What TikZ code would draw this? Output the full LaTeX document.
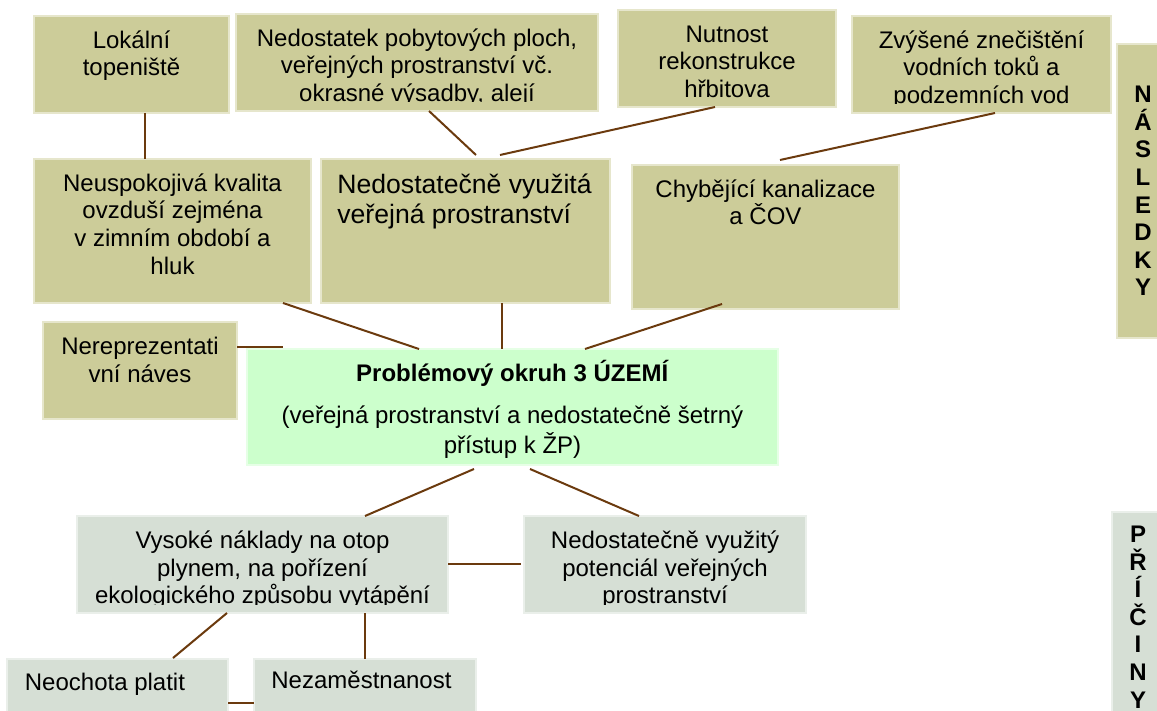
\documentclass[tikz,border=0pt]{standalone}
\usepackage{fontspec}
\setmainfont{Liberation Sans}
\usetikzlibrary{calc}

\definecolor{olivova}{HTML}{CCCC99}
\definecolor{zelena}{HTML}{CCFFCC}
\definecolor{seda}{HTML}{D6DFD5}
\definecolor{hneda}{HTML}{6B3A0E}
\newcommand{\podpera}{\rule{0pt}{12pt}}

\tikzset{
  krabice/.style={rectangle, fill=#1, draw=#1!50!white, line width=0.6pt,
    inner sep=0pt, outer sep=0pt, anchor=north west},
  dusledek/.style={krabice=olivova},
  pricina/.style={krabice=seda},
  popis/.style={inner sep=0pt, anchor=north, align=center,
    font=\fontsize{12}{13.8}\selectfont},
  popisL/.style={popis, anchor=north west, align=left},
  svisle/.style={inner sep=0pt, align=center,
    font=\fontsize{12}{13.8}\selectfont\bfseries},
  spoj/.style={draw=hneda, line width=1pt},
}

\begin{document}
\begin{tikzpicture}[x=0.5pt, y=-0.5pt]
    \useasboundingbox (0,0) rectangle (1157,711);

    % Nasledky - horni rada
    \node[dusledek, minimum width=97.5pt, minimum height=48.5pt] (lok) at (34,16) {};
    \node[dusledek, minimum width=181pt, minimum height=48.5pt] (pobyt) at (236,14) {};
    \node[dusledek, minimum width=109pt, minimum height=48.5pt] (nutn) at (618,10) {};
    \node[dusledek, minimum width=129.5pt, minimum height=48.5pt] (zvys) at (852,16) {};
    \node[popis] (tlok) at ($(lok.north)+(0,8)$) {\podpera Lokální\\topeniště};
    \begin{scope}
      \clip (pobyt.north west) rectangle ($(pobyt.south east)+(0,-9)$);
      \node[popis] (tpobyt) at ($(pobyt.north)+(0,8)$) {\podpera Nedostatek pobytových ploch,\\veřejných prostranství vč.\\okrasné výsadby, alejí};
    \end{scope}
    \node[popis] (tnutn) at ($(nutn.north)+(0,8)$) {\podpera Nutnost\\rekonstrukce\\hřbitova};
    \begin{scope}
      \clip (zvys.north west) rectangle ($(zvys.south east)+(0,-9)$);
      \node[popis] (tzvys) at ($(zvys.north)+(0,8)$) {\podpera Zvýšené znečištění\\vodních toků a\\podzemních vod};
    \end{scope}

    % Nasledky - druha rada
    \node[dusledek, minimum width=138.5pt, minimum height=72pt] (neusp) at (34,159) {};
    \node[dusledek, minimum width=144.5pt, minimum height=72pt] (vyuz) at (321,159) {};
    \node[dusledek, minimum width=133.5pt, minimum height=72pt] (chyb) at (632,165) {};
    \node[dusledek, minimum width=97pt, minimum height=48.5pt] (nerep) at (43,322) {};
    \node[popis] (tneusp) at ($(neusp.north)+(0,8)$) {\podpera Neuspokojivá kvalita\\ovzduší zejména\\v zimním období a\\hluk};
    \node[popisL, font=\fontsize{13.3}{15}\selectfont] (tvyuz) at ($(vyuz.north west)+(16,8)$) {\rule{0pt}{13pt}Nedostatečně využitá\\veřejná prostranství};
    \node[popis] (tchyb) at ($(chyb.north)+(0,8)$) {\podpera Chybějící kanalizace\\a ČOV};
    \node[popis] (tnerep) at ($(nerep.north)+(0,8)$) {\podpera Nereprezentati\\vní náves};

    % Problemovy okruh
    \node[krabice=zelena, minimum width=265.5pt, minimum height=58pt] (okruh) at (247,349) {};
    \node[popis] (tokruh) at ($(okruh.north)+(0,8)$) {\podpera\textbf{Problémový okruh 3 ÚZEMÍ}\\[7.2pt](veřejná prostranství a nedostatečně šetrný\\[1.2pt]přístup k ŽP)};

    % Priciny
    \node[pricina, minimum width=185.5pt, minimum height=48.5pt] (vysoke) at (77,516) {};
    \node[pricina, minimum width=141pt, minimum height=48.5pt] (potenc) at (524,516) {};
    \node[pricina, minimum width=110.5pt, minimum height=30pt] (neoch) at (7,659) {};
    \node[pricina, minimum width=111pt, minimum height=30pt] (nezam) at (254,659) {};
    \begin{scope}
      \clip (vysoke.north west) rectangle ($(vysoke.south east)+(0,-9)$);
      \node[popis] (tvysoke) at ($(vysoke.north)+(0,8)$) {\podpera Vysoké náklady na otop\\plynem, na pořízení\\ekologického způsobu vytápění};
    \end{scope}
    \begin{scope}
      \clip (potenc.north west) rectangle ($(potenc.south east)+(0,-9)$);
      \node[popis] (tpotenc) at ($(potenc.north)+(0,8)$) {\podpera Nedostatečně využitý\\potenciál veřejných\\prostranství};
    \end{scope}
    \node[popisL] (tneoch) at ($(neoch.north west)+(17.5,7)$) {\podpera Neochota platit};
    \node[popisL] (tnezam) at ($(nezam.north west)+(17,5)$) {\podpera Nezaměstnanost};

    % Svisle popisky
    \node[dusledek, minimum width=26pt, minimum height=147pt] (nasl) at (1117,44) {};
    \node[svisle] (tnasl) at (nasl.center) {N\\Á\\S\\L\\E\\D\\K\\Y};
    \node[pricina, minimum width=26pt, minimum height=105pt] (pric) at (1112,512) {};
    \node[svisle] (tpric) at (pric.center) {P\\Ř\\Í\\Č\\I\\N\\Y};

    % Spojnice
    \draw[spoj] ($(lok.south west)+(111,0)$) -- ($(neusp.north west)+(111,0)$);
    \draw[spoj] ($(pobyt.south west)+(193,0)$) -- ($(vyuz.north west)+(155,-4)$);
    \draw[spoj] ($(vyuz.north west)+(179,-4)$) -- ($(nutn.south west)+(97,0)$);
    \draw[spoj] ($(zvys.south west)+(143,0)$) -- ($(chyb.north west)+(148,-5)$);
    \draw[spoj] ($(neusp.south west)+(249,0)$) -- ($(okruh.north west)+(172,0)$);
    \draw[spoj] ($(vyuz.south west)+(181,0)$) -- ($(okruh.north west)+(255,0)$);
    \draw[spoj] ($(chyb.south west)+(90,-5)$) -- ($(okruh.north west)+(338,0)$);
    \draw[spoj] ($(nerep.north east)+(0,25)$) -- ($(okruh.north west)+(36,-2)$);
    \draw[spoj] ($(okruh.south west)+(227,4)$) -- ($(vysoke.north west)+(288,0)$);
    \draw[spoj] ($(okruh.south west)+(283,4)$) -- ($(potenc.north west)+(115,0)$);
    \draw[spoj] ($(vysoke.north east)+(0,48)$) -- ($(potenc.north west)+(-3,48)$);
    \draw[spoj] ($(vysoke.south west)+(150,0)$) -- ($(neoch.north west)+(166,-1)$);
    \draw[spoj] ($(vysoke.south west)+(288,0)$) -- ($(nezam.north west)+(111,0)$);
    \draw[spoj] ($(neoch.north east)+(0,44)$) -- ($(nezam.north west)+(0,44)$);
\end{tikzpicture}
\end{document}
